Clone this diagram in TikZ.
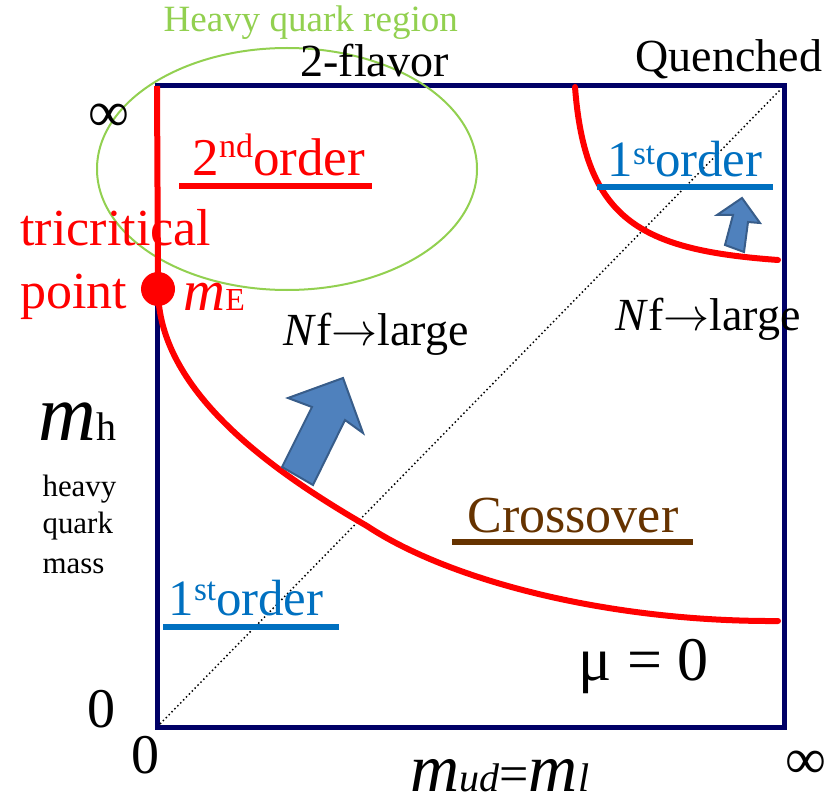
\documentclass[tikz,border=0pt]{standalone}
\usepackage{fontspec}
\setmainfont{Liberation Serif}
\usetikzlibrary{shapes.geometric}
\definecolor{navy}{RGB}{0,0,102}
\definecolor{qred}{RGB}{255,0,0}
\definecolor{qblue}{RGB}{0,112,192}
\definecolor{qgreen}{RGB}{146,208,80}
\definecolor{qbrown}{RGB}{102,51,0}
\definecolor{afill}{RGB}{79,129,189}
\definecolor{aline}{RGB}{56,93,138}
\newcommand\fs[1]{\fontsize{#1}{#1}\selectfont}
\begin{document}
\begin{tikzpicture}[x=0.75pt,y=-0.75pt,
  lbl/.style={inner sep=0pt, anchor=base west, scale=2},
  ctr/.style={inner sep=0pt, anchor=center, scale=2},
  uline/.style={line width=4.5pt},
  redcurve/.style={qred, line width=4.5pt, line cap=round},
  bigarrow/.style={fill=afill, draw=aline, line width=1.5pt, line join=miter}]
\useasboundingbox (0,0) rectangle (827,802);
% frame
\coordinate (BL) at (157,727);
\coordinate (TR) at (784,86);
\coordinate (TL) at (157,86);
\draw[navy, line width=3.75pt] (BL) rectangle (TR);
% diagonal
\coordinate (d0) at (160,724);
\coordinate (d1) at (781,89);
\draw[black, dotted, line width=1.1pt] (d0) -- (d1);
% ellipse
\node[draw=qgreen, line width=1.5pt, ellipse, minimum width=285pt, minimum height=181.5pt, inner sep=0pt] (hq) at (287,169) {};
% texts top
\node[lbl, text=qgreen] (hqr) at (163,32) {\fs{13.9pt}Heavy quark region};
\node[lbl] (twofl) at (300,77) {\fs{17.25pt}2-flavor};
\node[lbl] (quen) at (635,72) {\fs{17.25pt}Quenched};
\node[ctr] (inftl) at (109,118) {\fs{21.5pt}∞};
\node[ctr] (infbr) at (806,765) {\fs{21.5pt}∞};
\node[ctr] (zl) at (101,709) {\fs{21pt}0};
\node[ctr] (zb) at (145,755) {\fs{21pt}0};
% red vertical line and dot
\node[circle, fill=qred, minimum size=25.5pt, inner sep=0pt] (dot) at (158,289) {};
\draw[qred, line width=4.5pt] (TL) -- (dot.center);
% main red curve
\coordinate (c1) at (367,526);
\coordinate (c2) at (778,621);
\draw[redcurve] (dot.center) .. controls (158,390) and (270,470) .. (c1)
  .. controls (450,581) and (610,622) .. (c2);
% upper right curve
\coordinate (u0) at (575,87);
\coordinate (u1) at (778,260);
\draw[redcurve] (u0) .. controls (585,220) and (640,250) .. (u1);
% arrows
\draw[bigarrow] (282,467) -- (312,407) -- (288,398) -- (343,378) -- (363,433) -- (345,420) -- (313,485) -- cycle;
\draw[bigarrow] (725,245) -- (733,215) -- (717,215) -- (742,198) -- (760,223) -- (748,222) -- (744,252) -- cycle;
% 2nd order
\node[lbl, text=qred] (sec) at (192,176) {\fs{19.9pt}2\raisebox{7pt}{\fs{12.75pt}nd}order};
\draw[qred, uline] (179,186) -- (372,186);
% 1st order top right
\node[lbl, text=qblue] (fst1) at (607,177) {\fs{19.1pt}1\raisebox{4.5pt}{\fs{12.4pt}st}order};
\draw[qblue, uline] (597,187) -- (773,187);
% 1st order bottom left
\node[lbl, text=qblue] (fst2) at (168,615) {\fs{19.1pt}1\raisebox{5.5pt}{\fs{12.4pt}st}order};
\draw[qblue, uline] (163,627) -- (339,627);
% crossover
\node[lbl, text=qbrown] (cross) at (467,532) {\fs{19.5pt}Crossover};
\draw[qbrown, uline] (452,542) -- (693,542);
% tricritical
\node[lbl, text=qred] (tri1) at (20,245) {\fs{19.5pt}tricritical};
\node[lbl, text=qred] (tri2) at (20,308) {\fs{19.5pt}point};
\node[lbl, text=qred] (mE) at (183,310) {\fs{21.75pt}\itshape m\upshape\fs{12pt}E};
% Nf large
\node[lbl] (nf1) at (283,345) {\fs{17.25pt}\textit{N}f$\rightarrow$large};
\node[lbl] (nf2) at (615,330) {\fs{17.25pt}\textit{N}f$\rightarrow$large};
% axis labels
\node[lbl] (mh) at (38,440) {\fs{30pt}\itshape m\upshape\fs{15pt}h};
\node[lbl] (hv) at (42,496) {\fs{11.6pt}heavy};
\node[lbl] (qk) at (42,533) {\fs{11.6pt}quark};
\node[lbl] (ms) at (42,573) {\fs{11.6pt}mass};
\node[lbl] (mu) at (578,680) {\fs{23.25pt}μ = 0};
\node[lbl] (mud) at (410,791) {\itshape\fs{25.5pt}m\fs{15pt}ud\upshape\fs{19.5pt}=\itshape\fs{25.5pt}m\fs{15pt}l};
\end{tikzpicture}
\end{document}
